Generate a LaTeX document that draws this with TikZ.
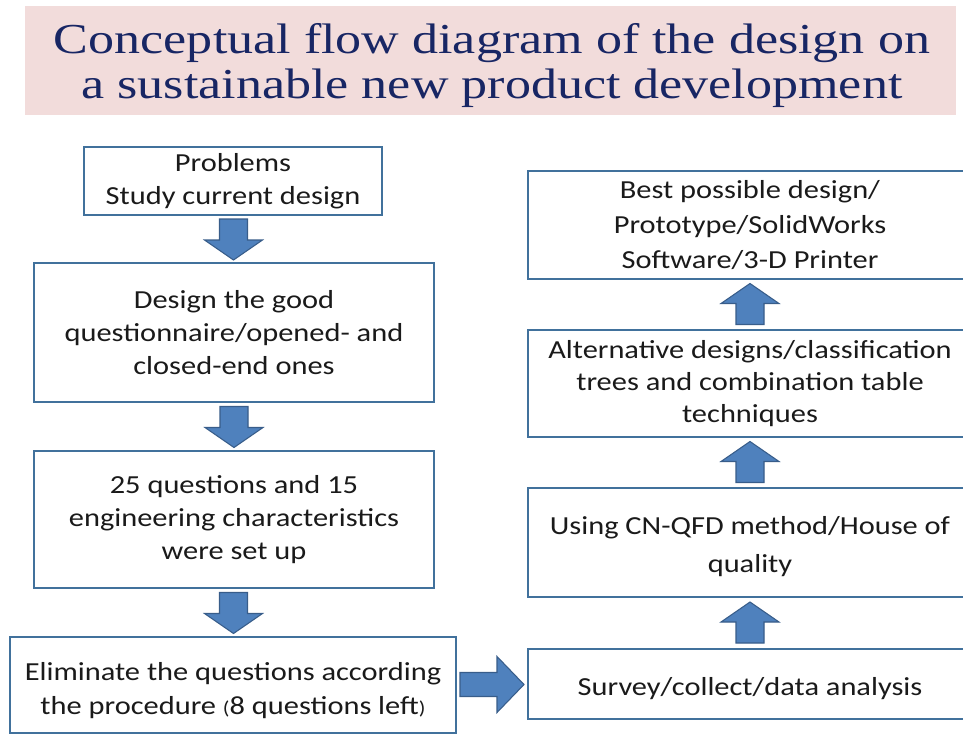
\documentclass[tikz,border=0pt]{standalone}
\usepackage{fontspec}
\setmainfont{Carlito}[FakeStretch=1.17]
\newfontfamily\titlefont{Liberation Serif}[FakeStretch=1.22]
\usetikzlibrary{calc}
\definecolor{boxblue}{RGB}{65,113,156}
\definecolor{arrowfill}{RGB}{79,129,189}
\definecolor{arrowline}{RGB}{56,93,138}
\definecolor{titlepink}{RGB}{242,220,219}
\definecolor{titlenavy}{RGB}{24,38,100}
\definecolor{bodytext}{RGB}{26,26,26}
\tikzset{
  box/.style={draw=boxblue, line width=1.9pt, fill=white, inner sep=0pt,
    align=center, font=\fontsize{19.5}{25}\selectfont, text=bodytext},
  lbox/.style={box, minimum width=300pt},
  rbox/.style={box, minimum width=333pt},
  blkfill/.style={fill=arrowfill, draw=arrowline, line width=0.8pt, line join=miter},
  vblk/.pic={\path[blkfill] (-14,-20) -- (14,-20) -- (14,1) -- (29,1) -- (0,21)
      -- (-29,1) -- (-14,1) -- cycle;},
  hblk/.pic={\path[blkfill] (-32,-12) -- (5,-12) -- (5,-28) -- (32,0) -- (5,28)
      -- (5,12) -- (-32,12) -- cycle;}
}
\newcommand\smallparen[1]{{\fontsize{14}{14}\selectfont #1}}
\begin{document}
\begin{tikzpicture}[x=0.75pt,y=-0.75pt]
\useasboundingbox (0,0) rectangle (963,735);
\clip (0,0) rectangle (963,735);
\fill[white] (0,0) rectangle (963,735);
% title
\node[fill=titlepink, minimum width=698.25pt, minimum height=81.75pt, inner sep=0pt] (tbar) at (490.5,60.5) {};
\node[text=titlenavy, font=\titlefont\fontsize{32}{34}\selectfont, align=center, inner sep=0pt]
  (title) at (492,65.5) {Conceptual flow diagram of the design on\\a sustainable new product development};
% left column
\node[box, minimum width=223.5pt, minimum height=51pt] (b1) at (233,181) {Problems\\Study current design};
\node[lbox, minimum height=104.25pt] (b2) at (234,332.5) {Design the good\\questionnaire/opened- and\\closed-end ones};
\node[lbox, minimum height=102.75pt] (b3) at (234,519.5) {25 questions and 15\\engineering characteristics\\were set up};
\node[box, minimum width=334.5pt, minimum height=72pt] (b4) at (233,685) {\rule{0pt}{22pt}Eliminate the questions according\\the procedure \smallparen{(}8 questions left\smallparen{)}};
% right column
\node[rbox, minimum height=52.5pt] (b5) at (750,684) {\rule{0pt}{20pt}Survey/collect/data analysis};
\node[rbox, minimum height=81.75pt] (b6) at (750,542.5) {\rule{0pt}{20pt}Using CN-QFD method/House of\\[3.5pt]quality};
\node[rbox, minimum height=80.25pt, font=\fontsize{19.5}{24}\selectfont] (b7) at (750,383.5) {Alternative designs/classification\\trees and combination table\\techniques};
\node[rbox, minimum height=81pt, font=\fontsize{19.5}{26}\selectfont] (b8) at (750,225) {Best possible design/\\Prototype/SolidWorks\\Software/3-D Printer};
% block arrows
\pic at ($(b1.south)!0.5!(b2.north)$) {vblk};
\pic at ($(b2.south)!0.5!(b3.north)$) {vblk};
\pic at ($(b3.south)!0.5!(b4.north)$) {vblk};
\pic at ($(b4.east)!0.5!(b5.west)$) {hblk};
\pic[rotate=180] at ($(b5.north)!0.5!(b6.south)$) {vblk};
\pic[rotate=180] at ($(b6.north)!0.5!(b7.south)$) {vblk};
\pic[rotate=180] at ($(b7.north)!0.5!(b8.south)$) {vblk};
\end{tikzpicture}
\end{document}
